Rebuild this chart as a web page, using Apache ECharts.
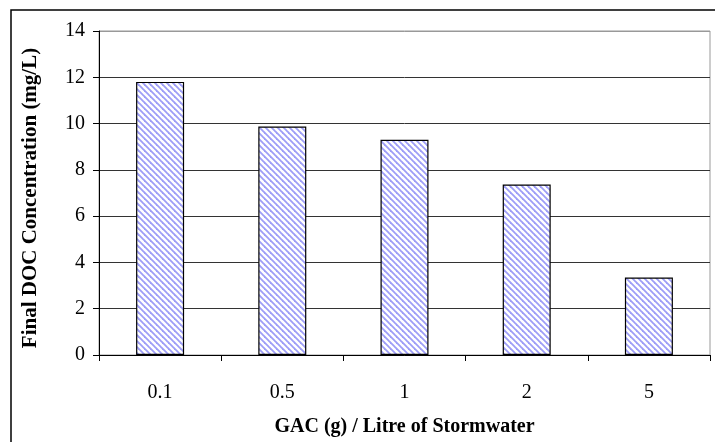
<!DOCTYPE html>
<html><head><meta charset="utf-8">
<script src="https://cdn.jsdelivr.net/npm/echarts@6/dist/echarts.min.js"></script>
<style>html,body{margin:0;padding:0;background:#fff}#c{width:715px;height:442px}</style>
</head><body><div id="c"></div>
<script>
const categories = ['0.1', '0.5', '1', '2', '5'];
const docValues = [11.8, 9.87, 9.3, 7.37, 3.35];
const yTicks = [0, 2, 4, 6, 8, 10, 12, 14];

function stripe() {
  const c = document.createElement('canvas');
  c.width = 6; c.height = 6;
  const g = c.getContext('2d');
  g.fillStyle = '#fff'; g.fillRect(0, 0, 6, 6);
  g.strokeStyle = '#9d9df7'; g.lineWidth = 1.8;
  for (let k = -6; k <= 6; k += 6) {
    g.beginPath(); g.moveTo(k - 1, -1); g.lineTo(k + 7, 7); g.stroke();
  }
  return c;
}

const gridColors = yTicks.map((v, i) => i === yTicks.length - 1 ? '#999' : '#333');

const chart = echarts.init(document.getElementById('c'), null, {renderer: 'canvas'});
chart.setOption({
  animation: false,
  backgroundColor: '#fff',
  graphic: [{type: 'rect', shape: {x: 11, y: 10, width: 720, height: 450},
    style: {fill: 'none', stroke: '#000', lineWidth: 1.5}, silent: true, z: 100}],
  grid: {left: 99, right: 5, top: 31, bottom: 86, show: true, borderColor: '#999', borderWidth: 1, backgroundColor: '#fff'},
  xAxis: {
    type: 'category', data: categories,
    name: 'GAC (g) / Litre of Stormwater', nameLocation: 'middle', nameGap: 62,
    nameTextStyle: {fontFamily: 'Liberation Serif', fontWeight: 'bold', fontSize: 20, color: '#000'},
    axisLine: {lineStyle: {color: '#000', width: 1}},
    axisTick: {show: true, length: 6, lineStyle: {color: '#000'}},
    axisLabel: {fontFamily: 'Liberation Serif', fontSize: 20, color: '#000', margin: 28}
  },
  yAxis: {
    type: 'value', min: yTicks[0], max: yTicks[yTicks.length - 1], interval: 2,
    name: 'Final DOC Concentration (mg/L)', nameLocation: 'middle', nameGap: 58,
    nameTextStyle: {fontFamily: 'Liberation Serif', fontWeight: 'bold', fontSize: 21, color: '#000', padding: [0, 10, 0, 0]},
    axisLine: {show: true, lineStyle: {color: '#000', width: 1}},
    axisTick: {show: true, length: 6, lineStyle: {color: '#000'}},
    axisLabel: {fontFamily: 'Liberation Serif', fontSize: 20, color: '#000', margin: 14},
    splitLine: {show: true, lineStyle: {color: gridColors, width: 1}}
  },
  series: [{
    type: 'bar', data: docValues, barWidth: 48,
    itemStyle: {color: {image: stripe(), repeat: 'repeat'}, borderColor: '#000', borderWidth: 1.2}
  }]
});
</script></body></html>
